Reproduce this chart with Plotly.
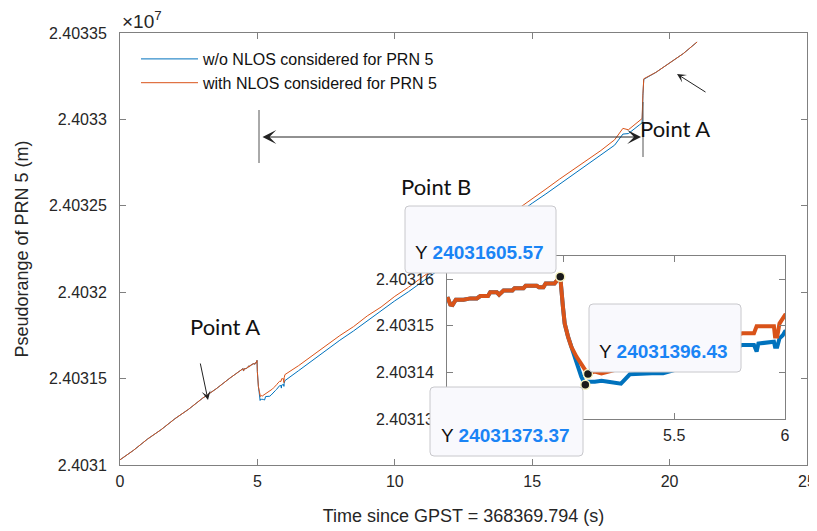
import plotly.graph_objects as go

# ---------------- data ----------------
time_s = [0.0, 0.5, 1.0, 1.5, 2.0, 2.5, 3.0, 3.5, 4.0,
          4.48, 4.49, 4.50, 4.515, 4.55, 4.58, 4.61, 4.625, 4.66, 4.67, 4.70,
          4.71, 4.73, 4.77, 4.78, 4.82, 4.83, 4.88, 4.89, 4.91, 4.92, 4.96,
          4.97, 4.986, 4.998, 5.006, 5.021, 5.036, 5.059, 5.081, 5.099, 5.111,
          5.142, 5.172, 5.202, 5.23, 5.26, 5.30, 5.35, 5.40, 5.45, 5.50, 5.55,
          5.60, 5.65, 5.70, 5.75, 5.807, 5.86, 5.872, 5.88, 5.95, 5.955, 5.965,
          5.975, 5.99, 6.0,
          6.5, 7.0, 7.5, 8.0, 8.5, 9.0, 9.5, 10.0, 10.5, 11.0, 11.5, 12.0, 12.5,
          13.0, 13.5, 14.0, 14.5, 15.0, 15.5, 16.0, 16.5, 17.0, 17.5, 18.0, 18.3,
          18.5, 18.9, 19.0, 19.03, 19.06, 19.5, 20.0, 20.5, 21.0]

pr_with_nlos = [24031030, 24031086, 24031150, 24031205, 24031268, 24031323, 24031386, 24031441, 24031503,
                24031558, 24031546, 24031545, 24031556, 24031556, 24031559, 24031559, 24031564, 24031564, 24031572, 24031572,
                24031567, 24031576, 24031576, 24031581, 24031581, 24031586, 24031586, 24031583, 24031583, 24031591, 24031591,
                24031597, 24031605.57, 24031541, 24031505, 24031477, 24031455, 24031434, 24031416, 24031405, 24031396.43,
                24031402, 24031398, 24031402, 24031405, 24031407, 24031410, 24031415, 24031420, 24031427, 24031433, 24031440,
                24031448, 24031455, 24031465, 24031475, 24031484, 24031484, 24031499, 24031499, 24031499, 24031477, 24031477,
                24031505, 24031515, 24031523,
                24031575, 24031634, 24031688, 24031749, 24031801, 24031863, 24031914, 24031976, 24032029, 24032088, 24032143, 24032203, 24032259,
                24032317, 24032370, 24032431, 24032484, 24032543, 24032597, 24032655, 24032709, 24032768, 24032820, 24032882, 24032948,
                24032940, 24032992, 24033005, 24033150, 24033235, 24033272, 24033326, 24033381, 24033448]

pr_without_nlos = [24031030, 24031086, 24031150, 24031205, 24031268, 24031323, 24031386, 24031441, 24031503,
                   24031558, 24031546, 24031545, 24031556, 24031556, 24031559, 24031559, 24031564, 24031564, 24031572, 24031572,
                   24031567, 24031576, 24031576, 24031581, 24031581, 24031586, 24031586, 24031583, 24031583, 24031591, 24031591,
                   24031597, 24031605.57, 24031541, 24031505, 24031477, 24031455, 24031427, 24031391, 24031373.37, 24031380,
                   24031380, 24031382, 24031380, 24031378, 24031376, 24031396, 24031398, 24031398, 24031398, 24031405, 24031415,
                   24031422, 24031430, 24031438, 24031448, 24031459, 24031459, 24031445, 24031462, 24031466, 24031455, 24031455,
                   24031473, 24031480, 24031488,
                   24031546, 24031606, 24031661, 24031722, 24031776, 24031835, 24031890, 24031950, 24032003, 24032061, 24032118, 24032176, 24032233,
                   24032289, 24032344, 24032402, 24032457, 24032515, 24032569, 24032625, 24032682, 24032737, 24032794, 24032851, 24032915,
                   24032918, 24032968, 24032980, 24033140, 24033232, 24033272, 24033326, 24033381, 24033448]

series_names = ["w/o NLOS considered for PRN 5", "with NLOS considered for PRN 5"]

x_tick_vals = [0, 5, 10, 15, 20, 25]
y_tick_vals = [24031000, 24031500, 24032000, 24032500, 24033000, 24033500]
y_tick_text = ["2.4031", "2.40315", "2.4032", "2.40325", "2.4033", "2.40335"]

inset_x_tick_vals = [5, 5.5, 6]
inset_x_tick_text = ["5", "5.5", "6"]
inset_y_tick_vals = [24031300, 24031400, 24031500, 24031600]
inset_y_tick_text = ["2.40313", "2.40314", "2.40315", "2.40316"]

# datatips: (time, series index: 0 = w/o, 1 = with)
datatips = [(4.986, 1), (5.111, 1), (5.099, 0)]

# ---------------- styling / geometry ----------------
BLUE = "#0072BD"
ORANGE = "#D95319"
AX = "#808080"
TXT = "#262626"
FONT = "Liberation Sans, Arial, sans-serif"

WIN_W, WIN_H = 817, 531
OFF = 8                      # page body margin in the browser
W, H = WIN_W - OFF, WIN_H - OFF
# plot-area edges in window pixels
L, R, T, B = 120, 807, 33, 465


def px(x):
    return (x - L) / (R - L)


def py(y):
    return (B - y) / (B - T)


fig = go.Figure()
series = [pr_without_nlos, pr_with_nlos]
colors = [BLUE, ORANGE]

for name, vals, col in zip(series_names, series, colors):
    fig.add_trace(go.Scatter(x=time_s, y=vals, mode="lines", name=name,
                             line=dict(color=col, width=1), xaxis="x", yaxis="y"))
for vals, col in zip(series, colors):
    fig.add_trace(go.Scatter(x=time_s, y=vals, mode="lines", showlegend=False,
                             line=dict(color=col, width=4), xaxis="x2", yaxis="y2",
                             hoverinfo="skip"))

tip_x = [t for t, s in datatips]
tip_y = [series[s][time_s.index(t)] for t, s in datatips]
fig.add_trace(go.Scatter(x=tip_x, y=tip_y, mode="markers", showlegend=False,
                         marker=dict(size=9, color="#1a1a1a",
                                     line=dict(color="#f4f1c0", width=1.5)),
                         xaxis="x2", yaxis="y2"))

axis_common = dict(showline=True, linecolor=AX, linewidth=1, mirror="ticks",
                   ticks="inside", ticklen=6, tickcolor=AX, showgrid=False,
                   zeroline=False, automargin=False,
                   tickfont=dict(family=FONT, size=16, color=TXT))

fig.update_layout(
    width=W, height=H,
    margin=dict(l=L - OFF, r=W - (R - OFF), t=T - OFF, b=H - (B - OFF), autoexpand=False),
    paper_bgcolor="white", plot_bgcolor="white",
    font=dict(family=FONT, color=TXT),
    xaxis=dict(domain=[0, 1], range=[0, 25], tickvals=x_tick_vals,
               ticklabelstandoff=2,
               title=dict(text="Time since GPST = 368369.794 (s)",
                          font=dict(family=FONT, size=18, color=TXT), standoff=20),
               **axis_common),
    yaxis=dict(domain=[0, 1], range=[24031000, 24033500], tickvals=y_tick_vals,
               ticktext=y_tick_text, ticklabelstandoff=9,
               title=dict(text="Pseudorange of PRN 5 (m)",
                          font=dict(family=FONT, size=18, color=TXT), standoff=15),
               **axis_common),
    xaxis2=dict(domain=[px(447), px(785)], range=[4.475, 6.0], anchor="y2",
                tickvals=inset_x_tick_vals, ticktext=inset_x_tick_text,
                ticklabelstandoff=2, **axis_common),
    yaxis2=dict(domain=[py(419), py(256)], range=[24031300, 24031650], anchor="x2",
                tickvals=inset_y_tick_vals, ticktext=inset_y_tick_text,
                ticklabelstandoff=9, **axis_common),
    legend=dict(x=px(136), y=py(42), xanchor="left", yanchor="top",
                bgcolor="rgba(0,0,0,0)", borderwidth=0, itemwidth=57,
                font=dict(family=FONT, size=16, color="#111111"),
                tracegroupgap=0),
    showlegend=True,
)

shapes = []
# vertical marker lines
shapes.append(dict(type="line", xref="paper", yref="paper", x0=px(259), x1=px(259),
                   y0=py(110), y1=py(163), line=dict(color="#555555", width=1)))
shapes.append(dict(type="line", xref="paper", yref="paper", x0=px(643), x1=px(643),
                   y0=py(102), y1=py(157), line=dict(color="#555555", width=1)))


def rounded_box(x0, y0, x1, y1, r=4):
    X0, X1 = px(x0), px(x1)
    Y0, Y1 = py(y0), py(y1)
    rx = r / (R - L)
    ry = r / (B - T)
    return (f"M{X0 + rx},{Y0} L{X1 - rx},{Y0} Q{X1},{Y0} {X1},{Y0 - ry} "
            f"L{X1},{Y1 + ry} Q{X1},{Y1} {X1 - rx},{Y1} L{X0 + rx},{Y1} "
            f"Q{X0},{Y1} {X0},{Y1 + ry} L{X0},{Y0 - ry} Q{X0},{Y0} {X0 + rx},{Y0} Z")


tip_boxes = [(405, 206, 556, 273), (589, 304, 741, 372), (430, 387, 583, 456)]
tip_text_pos = [(413, 252), (597, 351), (439, 435)]
for (x0, y0, x1, y1) in tip_boxes:
    shapes.append(dict(type="path", xref="paper", yref="paper",
                       path=rounded_box(x0, y0, x1, y1), layer="above",
                       fillcolor="#f9f9fd", line=dict(color="#c8c8cc", width=1)))
fig.update_layout(shapes=shapes)

ann = []
ann.append(dict(xref="paper", yref="paper", x=px(120), y=py(20), xanchor="left",
                yanchor="middle", showarrow=False, text="×10<sup>7</sup>",
                font=dict(family=FONT, size=19, color=TXT)))
for (tx, ty), v in zip(tip_text_pos, tip_y):
    ann.append(dict(xref="paper", yref="paper", x=px(tx), y=py(ty), xanchor="left",
                    yanchor="middle", showarrow=False,
                    text=f"Y <span style='color:#1a84f5'><b>{v:.2f}</b></span>",
                    font=dict(family=FONT, size=19, color="#111111")))

LBL = dict(family="Lato, Noto Sans, sans-serif", size=22, color="#111111")
ann.append(dict(xref="paper", yref="paper", x=px(188), y=py(342), showarrow=False,
                text="Point A", font=LBL))
ann.append(dict(xref="paper", yref="paper", x=px(712), y=py(113), showarrow=False,
                text="Point A", font=LBL))
ann.append(dict(xref="paper", yref="paper", x=px(436), y=py(171), showarrow=False,
                text="Point B", font=LBL))
# arrows
ann.append(dict(xref="paper", yref="paper", x=px(208), y=py(400), ax=200 - 208, ay=362 - 400,
                axref="pixel", ayref="pixel", text="", showarrow=True, arrowhead=3,
                arrowsize=1.5, arrowwidth=1, arrowcolor="#222222"))
ann.append(dict(xref="paper", yref="paper", x=px(677), y=py(74), ax=707 - 677, ay=93 - 74,
                axref="pixel", ayref="pixel", text="", showarrow=True, arrowhead=3,
                arrowsize=1.5, arrowwidth=1, arrowcolor="#222222"))
ann.append(dict(xref="paper", yref="paper", x=px(641), y=py(137), ax=261 - 641, ay=0,
                axref="pixel", ayref="pixel", text="", showarrow=True, arrowhead=3,
                startarrowhead=3, arrowside="end+start", arrowsize=2.3,
                startarrowsize=2.3, arrowwidth=1, arrowcolor="#222222"))
fig.update_layout(annotations=ann)

fig.write_html("out.html")
